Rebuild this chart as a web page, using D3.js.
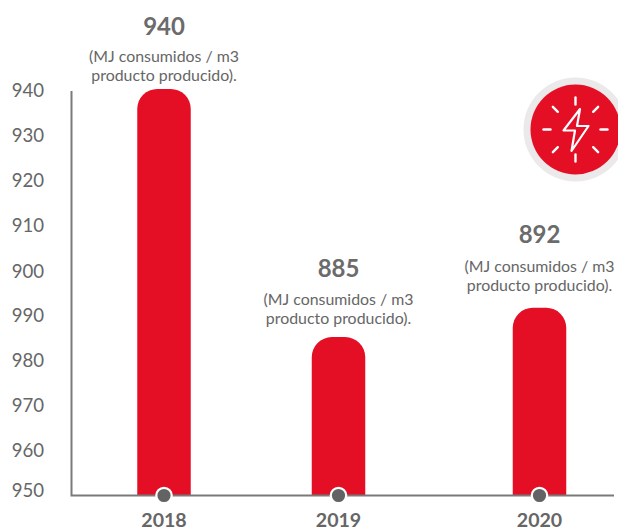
<!DOCTYPE html>
<html lang="es">
<head>
  <meta charset="UTF-8" />
  <title>MJ consumidos / m3</title>
  <style>
    html, body { margin: 0; padding: 0; background: #fff; }
    svg { display: block; font-family: "Lato", sans-serif; }
    .tick-label { font-size: 18.6px; fill: #666; text-anchor: end; }
    .value-label { font-size: 24px; font-weight: 700; fill: #6b6b6b; text-anchor: middle; }
    .unit-label { font-size: 15.9px; fill: #666; text-anchor: middle; }
    .year-label { font-size: 19.6px; font-weight: 700; fill: #666; text-anchor: middle; }
  </style>
</head>
<body>
  <div id="chart"></div>

  <script src="https://d3js.org/d3.v7.min.js"></script>
  <script>
    // datos
    const years = ['2018', '2019', '2020'];
    const values = [940, 885, 891.5];
    const valueLabels = ['940', '885', '892'];
    const unitLines = ['(MJ consumidos / m3', 'producto producido).'];
    // las etiquetas del eje son asi en el original
    const yTicks = ['940', '930', '920', '910', '900', '990', '980', '970', '960', '950'];

    const width = 618;
    const height = 530;
    const red = '#e40f24';
    const axisGrey = '#7a7a7a';

    const svg = d3.select('#chart').append('svg')
      .attr('width', width)
      .attr('height', height);

    const x = d3.scaleOrdinal().domain(years).range([164, 338.5, 539.5]);
    const y = d3.scaleLinear().domain([850, 940]).range([495, 89]);
    // el ultimo intervalo del eje es mas corto en el original
    const yLabel = d3.scaleOrdinal().domain(yTicks)
      .range([97, 142, 186.5, 232, 277.5, 322, 366.5, 411.5, 457, 497]);
    const barWidth = 53.5;
    const radius = 20;

    // distancia del texto a la barra, distinta en cada columna
    const labelGap = [54, 60, 65];
    const unitGap = [27, 32, 35.5];

    // barras con esquinas superiores redondeadas
    function barPath(d, i) {
      const left = x(years[i]) - barWidth / 2;
      const p = d3.path();
      p.moveTo(left, y(850));
      p.lineTo(left, y(d) + radius);
      p.arcTo(left, y(d), left + radius, y(d), radius);
      p.lineTo(left + barWidth - radius, y(d));
      p.arcTo(left + barWidth, y(d), left + barWidth, y(d) + radius, radius);
      p.lineTo(left + barWidth, y(850));
      p.closePath();
      return p.toString();
    }

    svg.selectAll('.bar')
      .data(values)
      .enter()
      .append('path')
      .attr('class', 'bar')
      .attr('d', barPath)
      .attr('fill', red);

    // ejes
    svg.append('path')
      .attr('d', 'M71.5,91V495.5H614')
      .attr('fill', 'none')
      .attr('stroke', axisGrey)
      .attr('stroke-width', 2);

    svg.selectAll('.tick-label')
      .data(yTicks)
      .enter()
      .append('text')
      .attr('class', 'tick-label')
      .attr('x', 44)
      .attr('y', d => yLabel(d))
      .text(d => d);

    // puntos sobre el eje
    svg.selectAll('.dot')
      .data(years)
      .enter()
      .append('circle')
      .attr('class', 'dot')
      .attr('cx', d => x(d))
      .attr('cy', 495.5)
      .attr('r', 7.7)
      .attr('fill', '#636363')
      .attr('stroke', '#fff')
      .attr('stroke-width', 2.2);

    svg.selectAll('.year-label')
      .data(years)
      .enter()
      .append('text')
      .attr('class', 'year-label')
      .attr('x', d => x(d))
      .attr('y', 527)
      .text(d => d);

    // etiquetas de valor encima de cada barra
    const labels = svg.selectAll('.label')
      .data(years)
      .enter()
      .append('g')
      .attr('class', 'label')
      .attr('transform', (d, i) => `translate(${x(d)},${y(values[i])})`);

    labels.append('text')
      .attr('class', 'value-label')
      .attr('y', (d, i) => -labelGap[i])
      .text((d, i) => valueLabels[i]);

    unitLines.forEach((line, k) => {
      labels.append('text')
        .attr('class', 'unit-label')
        .attr('y', (d, i) => -unitGap[i] + k * 19.2)
        .text(line);
    });

    // icono del rayo
    const icon = svg.append('g').attr('transform', 'translate(575.5,129.5)');
    icon.append('circle').attr('r', 52).attr('fill', '#ebe9ea');
    icon.append('circle').attr('r', 45).attr('fill', red);
    d3.range(8).forEach(i => {
      const a = i * Math.PI / 4;
      icon.append('line')
        .attr('x1', 25 * Math.cos(a))
        .attr('y1', 25 * Math.sin(a))
        .attr('x2', 32 * Math.cos(a))
        .attr('y2', 32 * Math.sin(a))
        .attr('stroke', '#fff')
        .attr('stroke-width', 2.4)
        .attr('stroke-linecap', 'round');
    });
    icon.append('path')
      .attr('d', 'M4.5,-20.5L-12,1H-0.5L-4,21.5L13,-3.5H1.5Z')
      .attr('fill', 'none')
      .attr('stroke', '#fff')
      .attr('stroke-width', 2.2)
      .attr('stroke-linejoin', 'round');
  </script>
</body>
</html>
